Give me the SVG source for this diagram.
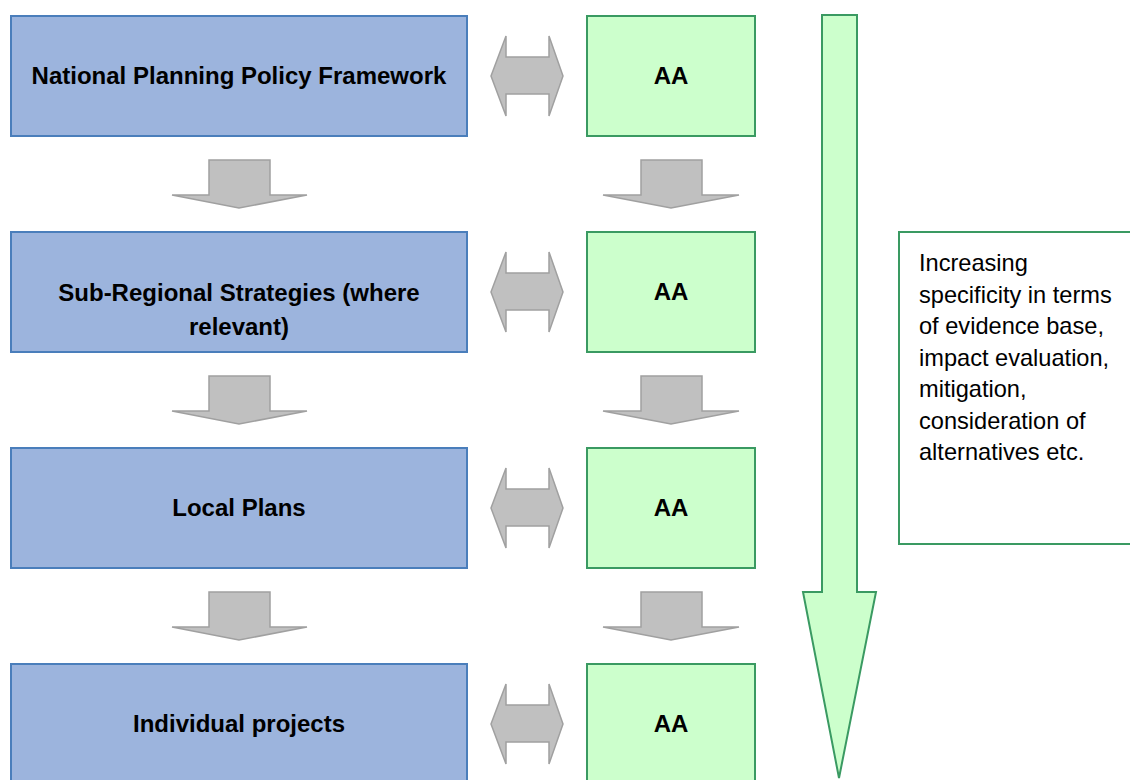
<svg xmlns="http://www.w3.org/2000/svg" width="1130" height="780" viewBox="0 0 1130 780">
<style>
.blue{fill:#9CB4DD;stroke:#4A7EBB;stroke-width:2}
.green{fill:#CCFFCC;stroke:#3A9A62;stroke-width:2}
.gray{fill:#C0C0C0;stroke:#A0A0A0;stroke-width:1.5}
.note{fill:#FFFFFF;stroke:#3A9A62;stroke-width:2}
.t{font-family:"Liberation Sans",Arial,sans-serif;font-weight:bold;font-size:24px;fill:#000;text-anchor:middle}
.n{font-family:"Liberation Sans",Arial,sans-serif;font-size:23.6px;fill:#000}
</style>
<defs>
<polygon id="dbl" class="gray" points="491,76 506,36 506,57 549,57 549,36 563,76 549,116 549,94 506,94 506,116"/>
<polygon id="downL" class="gray" points="209,160 270,160 270,195 307,195 239,208 172,195 209,195"/>
<polygon id="downR" class="gray" points="641,160 702,160 702,195 739,195 671,208 603,195 641,195"/>
</defs>
<g id="big-arrow">
<polygon class="green" points="822,15 857,15 857,592 876,592 839,778 803,592 822,592"/>
</g>
<g id="note">
<rect class="note" x="899" y="232" width="240" height="312"/>
<text class="n" x="919" y="271">Increasing</text>
<text class="n" x="919" y="303">specificity in terms</text>
<text class="n" x="919" y="334">of evidence base,</text>
<text class="n" x="919" y="366">impact evaluation,</text>
<text class="n" x="919" y="397">mitigation,</text>
<text class="n" x="919" y="429">consideration of</text>
<text class="n" x="919" y="460">alternatives etc.</text>
</g>
<g id="n1"><rect class="blue" x="11" y="16" width="456" height="120"/><text class="t" x="239" y="84">National Planning Policy Framework</text></g>
<g id="n2"><rect class="blue" x="11" y="232" width="456" height="120"/><text class="t" x="239" y="301">Sub-Regional Strategies (where</text><text class="t" x="239" y="335">relevant)</text></g>
<g id="n3"><rect class="blue" x="11" y="448" width="456" height="120"/><text class="t" x="239" y="516">Local Plans</text></g>
<g id="n4"><rect class="blue" x="11" y="664" width="456" height="120"/><text class="t" x="239" y="732">Individual projects</text></g>
<g id="a1"><rect class="green" x="587" y="16" width="168" height="120"/><text class="t" x="671" y="84">AA</text></g>
<g id="a2"><rect class="green" x="587" y="232" width="168" height="120"/><text class="t" x="671" y="300">AA</text></g>
<g id="a3"><rect class="green" x="587" y="448" width="168" height="120"/><text class="t" x="671" y="516">AA</text></g>
<g id="a4"><rect class="green" x="587" y="664" width="168" height="120"/><text class="t" x="671" y="732">AA</text></g>
<g id="connectors">
<use href="#dbl"/>
<use href="#dbl" y="216"/>
<use href="#dbl" y="432"/>
<use href="#dbl" y="648"/>
<use href="#downL"/>
<use href="#downL" y="216"/>
<use href="#downL" y="432"/>
<use href="#downR"/>
<use href="#downR" y="216"/>
<use href="#downR" y="432"/>
</g>
</svg>
